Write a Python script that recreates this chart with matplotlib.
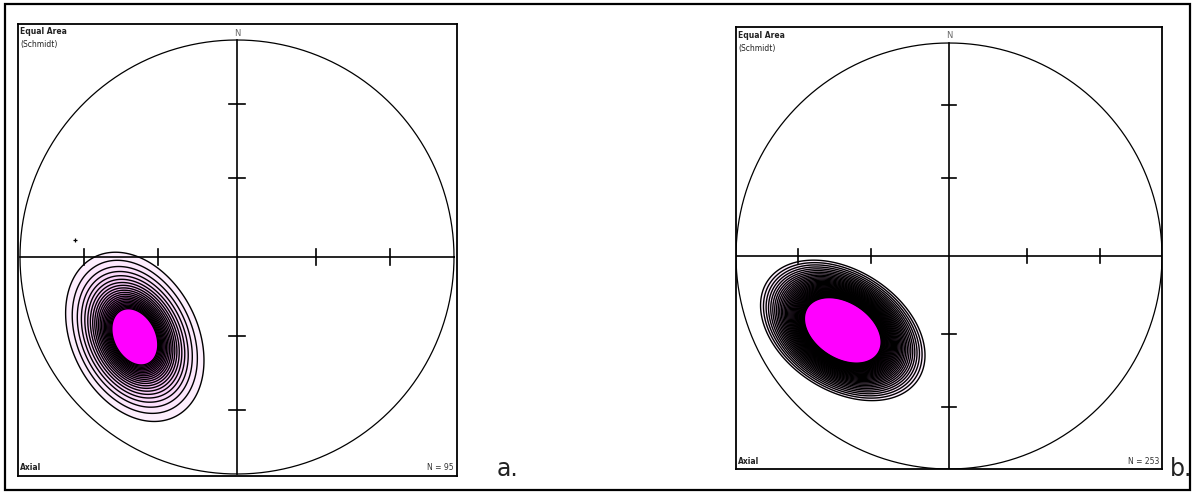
import numpy as np
import matplotlib
matplotlib.use('Agg')
import matplotlib.pyplot as plt
from matplotlib.colors import LinearSegmentedColormap

W, H = 1194, 493

# panel data (a = left, b = right)
panel_labels = ['a.', 'b.']
n_poles = [95, 253]
mean_trend = [232, 235]        # degrees
mean_plunge = [40, 39]         # degrees
spread_major = [0.128, 0.141]  # in projection radius units
spread_minor = [0.090, 0.094]
major_angle = [-63, -33]       # degrees from east
level_low = [0.040, 0.050]     # fraction of peak density
level_high = [0.343, 0.247]
level_count = [22, 36]
outlier_trend = [276]
outlier_plunge = [26]

# layout in pixels: panel box and primitive circle
boxes = [(18, 24, 457, 476), (736, 27, 1162, 469)]
centers = [(237, 257), (949, 256)]
radii = [217, 213]
label_pos = [(497, 476), (1170, 476)]

cmap = LinearSegmentedColormap.from_list('pinks', ['#fdeefd', '#f2a8f2', '#e030e0'])


def px(x, y):
    return x / W, 1 - y / H


def project(trend, plunge):
    t = np.radians(trend)
    theta = np.radians(90 - np.asarray(plunge))
    r = np.sqrt(2) * np.sin(theta / 2)
    return r * np.sin(t), r * np.cos(t)


fig = plt.figure(figsize=(W / 100, H / 100), dpi=100)

# outer frame
fig.add_artist(plt.Rectangle(px(5, 490), 1185 / W, 486 / H, fill=False,
                             lw=1.6, ec='black', transform=fig.transFigure))

for i in range(2):
    l, t, r, b = boxes[i]
    cx, cy = centers[i]
    R = radii[i]
    ax = fig.add_axes([l / W, 1 - b / H, (r - l) / W, (b - t) / H])
    ax.set_xlim((l - cx) / R, (r - cx) / R)
    ax.set_ylim((cy - b) / R, (cy - t) / R)
    ax.set_xticks([])
    ax.set_yticks([])
    for s in ax.spines.values():
        s.set_linewidth(1.3)

    # density grid
    g = np.linspace(-1, 1, 600)
    X, Y = np.meshgrid(g, g)
    mx, my = project(mean_trend[i], mean_plunge[i])
    a = np.radians(major_angle[i])
    u = (X - mx) * np.cos(a) + (Y - my) * np.sin(a)
    v = -(X - mx) * np.sin(a) + (Y - my) * np.cos(a)
    D = np.exp(-np.sqrt((u / spread_major[i]) ** 2 + (v / spread_minor[i]) ** 2))
    D[X ** 2 + Y ** 2 > 1] = np.nan
    levels = np.linspace(level_low[i], level_high[i], level_count[i])
    n = len(levels)
    fills = [cmap(k / (n - 2)) for k in range(n - 1)] + ['#ff00ff']
    ax.contourf(X, Y, D, levels=list(levels) + [1.01], colors=fills)
    ax.contour(X, Y, D, levels=levels, colors='black', linewidths=1.0)

    # primitive circle, diameters and ticks
    th = np.linspace(0, 2 * np.pi, 720)
    ax.plot(np.cos(th), np.sin(th), color='black', lw=0.9)
    ax.plot([-1, 1], [0, 0], color='black', lw=1.2)
    ax.plot([0, 0], [-1, 1], color='black', lw=1.2)
    for tr in np.sqrt(2) * np.sin(np.radians([15, 30])):
        for sgn in (-1, 1):
            ax.plot([sgn * tr] * 2, [-0.035, 0.035], color='black', lw=1.2)
            ax.plot([-0.035, 0.035], [sgn * tr] * 2, color='black', lw=1.2)

    if i == 0:
        ox, oy = project(outlier_trend, outlier_plunge)
        ax.plot(ox, oy, '+', color='black', ms=3.5, mew=0.9)

    # text
    fig.text(*px(l + 2, t + 8), 'Equal Area', fontsize=5.5, fontweight='bold',
             va='center', ha='left', color='#222222')
    fig.text(*px(l + 2, t + 21), '(Schmidt)', fontsize=5.5,
             va='center', ha='left', color='#222222')
    fig.text(*px(cx, t + 9), 'N', fontsize=6, va='center', ha='center', color='#666666')
    fig.text(*px(l + 2, b - 8), 'Axial', fontsize=5.5, fontweight='bold',
             va='center', ha='left', color='#222222')
    fig.text(*px(r - 3, b - 8), 'N = %d' % n_poles[i], fontsize=5.5,
             va='center', ha='right', color='#333333')
    fig.text(*px(*label_pos[i]), panel_labels[i], fontsize=17,
             va='baseline', ha='left', color='#222222')

plt.savefig('out.png', dpi=100)
plt.close()
